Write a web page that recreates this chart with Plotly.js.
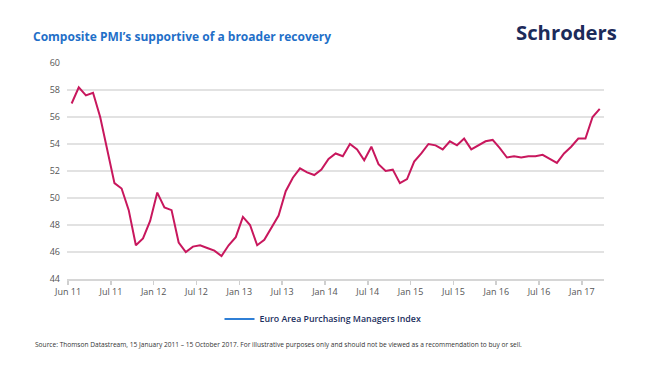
<!DOCTYPE html>
<html>
<head>
<meta charset="utf-8">
<script src="https://cdn.plot.ly/plotly-3.0.1.min.js"></script>
<style>
html,body{margin:0;padding:0;background:#fff;}
#chart{width:655px;height:372px;}
</style>
</head>
<body>
<div id="chart"></div>
<script>
// Monthly Euro Area composite PMI, starting mid-January 2011 (month index 0)
const pmiValues = [
  57.0, 58.2, 57.6, 57.8, 56.0, 53.6, 51.1, 50.7, 49.1, 46.5, 47.0, 48.3,
  50.4, 49.3, 49.1, 46.7, 46.0, 46.4, 46.5, 46.3, 46.1, 45.7, 46.5, 47.1,
  48.6, 48.0, 46.5, 46.9, 47.8, 48.7, 50.5, 51.5, 52.2, 51.9, 51.7, 52.1,
  52.9, 53.3, 53.1, 54.0, 53.6, 52.8, 53.8, 52.5, 52.0, 52.1, 51.1, 51.4,
  52.7, 53.3, 54.0, 53.9, 53.6, 54.2, 53.9, 54.4, 53.6, 53.9, 54.2, 54.3,
  53.7, 53.0, 53.1, 53.0, 53.1, 53.1, 53.2, 52.9, 52.6, 53.3, 53.8, 54.4,
  54.4, 56.0, 56.6
];
// mid-month positions (months since start of Jan 2011)
const monthPositions = pmiValues.map((v, i) => i + 0.5);

const tickPositions = [0, 6, 12, 18, 24, 30, 36, 42, 48, 54, 60, 66, 72];
const tickLabels = ["Jun 11", "Jul 11", "Jan 12", "Jul 12", "Jan 13", "Jul 13",
  "Jan 14", "Jul 14", "Jan 15", "Jul 15", "Jan 16", "Jul 16", "Jan 17"];
const yTicks = [44, 46, 48, 50, 52, 54, 56, 58, 60];

const seriesName = "Euro Area Purchasing Managers Index";
const titleText = "Composite PMI’s supportive of a broader recovery";
const sourceText = "Source: Thomson Datastream, 15 January 2011 – 15 October 2017. For illustrative purposes only and should not be viewed as a recommendation to buy or sell.";

const traces = [
  {
    x: monthPositions, y: pmiValues, mode: "lines", type: "scatter",
    line: {color: "#c8175d", width: 2}, showlegend: false, name: seriesName,
    hoverinfo: "skip"
  },
  {
    x: [null], y: [null], mode: "lines", type: "scatter",
    line: {color: "#2f7fd6", width: 2}, name: seriesName, showlegend: true
  }
];

const L = 67, R = 51, T = 63, B = 93;
const plotW = 655 - L - R, plotH = 372 - T - B;
const px = p => (p - L) / plotW;
const py = p => (372 - B - p) / plotH;

const layout = {
  width: 655, height: 372,
  margin: {l: L, r: R, t: T, b: B, pad: 0},
  paper_bgcolor: "#fff", plot_bgcolor: "#fff",
  font: {family: "Open Sans, Noto Sans, sans-serif", color: "#555", size: 9},
  title: {
    text: "<b>" + titleText + "</b>",
    x: 33 / 655, xanchor: "left", xref: "container",
    y: 1 - 37 / 372, yanchor: "middle", yref: "container",
    font: {family: "Open Sans, sans-serif", size: 12, color: "#1f6fc8"}
  },
  xaxis: {
    range: [-0.15, 75.1],
    tickmode: "array", tickvals: tickPositions, ticktext: tickLabels,
    showgrid: false, zeroline: false,
    showline: true, linecolor: "#d6d6d6", linewidth: 1.5,
    ticks: "outside", ticklen: 4, tickcolor: "#cfcfcf", tickwidth: 1.5,
    tickfont: {size: 9, color: "#555"}
  },
  yaxis: {
    range: [44, 60],
    tickmode: "array", tickvals: yTicks,
    showgrid: true, gridcolor: "#e2e2e2", gridwidth: 1.5,
    zeroline: false, showline: false, ticks: "",
    ticklabelstandoff: 6,
    tickfont: {size: 9, color: "#555"}
  },
  legend: {
    orientation: "h", x: px(323), xanchor: "center", y: py(319), yanchor: "middle",
    font: {size: 8.8, color: "#1c2f5e", family: "Open Sans, sans-serif", weight: 600},
    itemwidth: 30
  },
  annotations: [
    {
      text: "<b>Schroders</b>", xref: "paper", yref: "paper",
      x: px(619), xanchor: "right", y: py(32), yanchor: "middle",
      showarrow: false,
      font: {family: "Open Sans, sans-serif", size: 20.3, color: "#1c2b5a"}
    },
    {
      text: sourceText, xref: "paper", yref: "paper",
      x: px(33), xanchor: "left", y: py(344), yanchor: "middle",
      showarrow: false,
      font: {family: "Open Sans, sans-serif", size: 6.6, color: "#333"}
    }
  ]
};

Plotly.newPlot("chart", traces, layout, {displayModeBar: false, staticPlot: true});
</script>
</body>
</html>
